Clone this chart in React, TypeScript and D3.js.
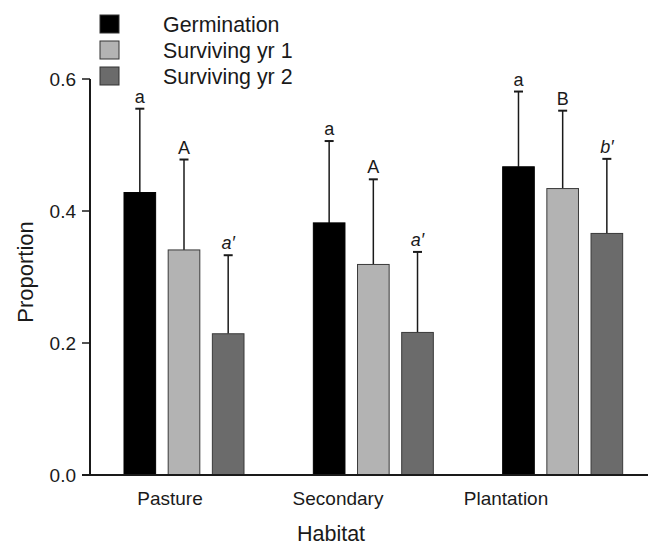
import React from 'react'
import * as d3 from 'd3'

const habitats = ['Pasture', 'Secondary', 'Plantation']
const seriesNames = ['Germination', 'Surviving yr 1', 'Surviving yr 2']
const seriesColors = ['#000000', '#b3b3b3', '#6b6b6b']

// mean proportions
const germination = [0.428, 0.382, 0.467]
const survivingYr1 = [0.341, 0.319, 0.434]
const survivingYr2 = [0.214, 0.216, 0.366]

// upper error (SE)
const germinationErr = [0.127, 0.124, 0.114]
const survivingYr1Err = [0.137, 0.129, 0.118]
const survivingYr2Err = [0.119, 0.122, 0.113]

// significance letters
const germinationLetters = ['a', 'a', 'a']
const survivingYr1Letters = ['A', 'A', 'B']
const survivingYr2Letters = ['a\u2032', 'a\u2032', 'b\u2032']

const yTicks = [0, 0.2, 0.4, 0.6]

const values = [germination, survivingYr1, survivingYr2]
const errors = [germinationErr, survivingYr1Err, survivingYr2Err]
const letters = [germinationLetters, survivingYr1Letters, survivingYr2Letters]

const W = 648
const H = 545
const FONT = 'Arial, "Liberation Sans", Helvetica, sans-serif'
const INK = '#1a1a1a'

export default function App() {
  const y = d3.scaleLinear().domain([0, 0.6]).range([475, 79])
  const x = d3.scaleBand().domain(habitats).range([90, 658])
  const xSub = d3.scaleBand().domain(seriesNames).range([34, 154]).paddingInner(0.284)
  // category labels sit on their own, slightly tighter spacing
  const xLabel = d3.scaleBand().domain(habitats).range([86, 590])
  const fmt = d3.format('.1f')

  return (
    <svg
      width={W}
      height={H}
      style={{ position: 'absolute', left: 0, top: 0, background: '#fff' }}
      fontFamily={FONT}
    >
      {/* legend */}
      {seriesNames.map((s, i) => (
        <g key={s}>
          <rect x={100} y={15 + i * 26} width={19} height={18} fill={seriesColors[i]} stroke="#333" strokeWidth={1} />
          <text x={163} y={32 + i * 26} fontSize={21.4} fill={INK}>
            {s}
          </text>
        </g>
      ))}

      {/* bars */}
      {habitats.map((h, hi) => (
        <g key={h} transform={`translate(${x(h)},0)`}>
          {seriesNames.map((s, si) => {
            const v = values[si][hi]
            const top = y(v + errors[si][hi])
            const bx = xSub(s)!
            const cx = bx + xSub.bandwidth() / 2
            const italic = si === 2
            return (
              <g key={s}>
                <line x1={cx} x2={cx} y1={y(v)} y2={top} stroke={INK} strokeWidth={1.5} />
                <line x1={cx - 4.5} x2={cx + 4.5} y1={top} y2={top} stroke={INK} strokeWidth={2} />
                <rect
                  x={bx}
                  y={y(v)}
                  width={xSub.bandwidth()}
                  height={y(0) - y(v)}
                  fill={seriesColors[si]}
                  stroke={si === 0 ? '#000' : '#3a3a3a'}
                  strokeWidth={1}
                />
                <text
                  x={cx}
                  y={top - 6}
                  textAnchor="middle"
                  fontSize={18}
                  fontStyle={italic ? 'italic' : 'normal'}
                  fill={INK}
                >
                  {letters[si][hi]}
                </text>
              </g>
            )
          })}
        </g>
      ))}

      {/* y axis */}
      <line x1={90} x2={90} y1={y(0.6)} y2={y(0)} stroke={INK} strokeWidth={2} />
      {yTicks.map((t) => (
        <g key={t}>
          <line x1={82} x2={90} y1={y(t)} y2={y(t)} stroke={INK} strokeWidth={1.5} />
          <text x={76} y={y(t)} dy="0.35em" textAnchor="end" fontSize={19} fill={INK}>
            {fmt(t)}
          </text>
        </g>
      ))}

      {/* x axis */}
      <line x1={82} x2={W} y1={y(0)} y2={y(0)} stroke={INK} strokeWidth={2} />
      {habitats.map((h) => (
        <text key={h} x={xLabel(h)! + xLabel.bandwidth() / 2} y={505} textAnchor="middle" fontSize={19} fill={INK}>
          {h}
        </text>
      ))}

      <text x={331} y={541} textAnchor="middle" fontSize={21.5} fill={INK}>
        Habitat
      </text>
      <text
        transform={`translate(33,${(221 + 323) / 2}) rotate(-90)`}
        textAnchor="middle"
        fontSize={22}
        fill={INK}
      >
        Proportion
      </text>
    </svg>
  )
}
